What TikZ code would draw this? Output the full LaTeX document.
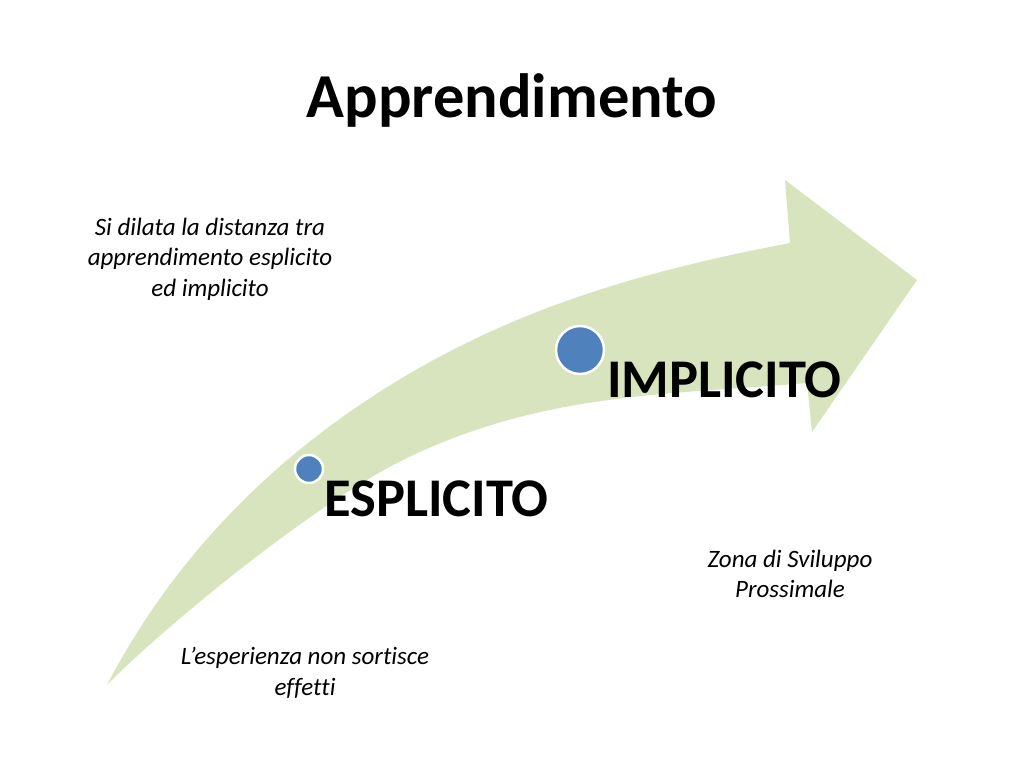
\documentclass[tikz,border=0pt]{standalone}
\usepackage{fontspec}
\setmainfont{Carlito}[Ligatures=CommonOff]
\definecolor{arrowgreen}{HTML}{D7E4BD}
\definecolor{dotblue}{HTML}{4F81BD}
\begin{document}
\begin{tikzpicture}[x=1pt,y=-1pt,
  note/.style={align=center,font=\fontsize{25}{30.5}\selectfont\itshape,inner sep=0pt},
  big/.style={font=\fontsize{54.5}{60}\selectfont\bfseries,inner sep=0pt},
  dot/.style={circle,fill=dotblue,draw=white,line width=2.5pt,inner sep=0pt}]
\useasboundingbox (0,0) rectangle (1024,768);
\fill[white] (0,0) rectangle (1024,768);
% curved arrow
\fill[arrowgreen]
  (107,685) .. controls (180,545) and (287,448) .. (397,381)
  .. controls (527,302) and (660,268) .. (790,243)
  -- (785,180) -- (917,280) -- (812,432) -- (807,383)
  .. controls (667,395) and (537,392) .. (397,463)
  .. controls (307,509) and (157,633) .. (107,685)
  -- cycle;
\node[anchor=base,font=\fontsize{62.5}{70}\selectfont\bfseries,inner sep=0pt] (title) at (512,117) {Apprendimento};
\node[dot,minimum size=48pt] (d2) at (580,350) {};
\node[dot,minimum size=28pt] (d1) at (309,469) {};
\node[big,anchor=base west] (impl) at (607,397) {IMPLICITO};
\node[big,anchor=base west] (espl) at (324,516) {ESPLICITO};
\node[note] (n1) at (210,259) {Si dilata la distanza tra\\apprendimento esplicito\\ed implicito};
\node[note] (n2) at (790,574) {Zona di Sviluppo\\Prossimale};
\node[note] (n3) at (305,673) {L’esperienza non sortisce\\effetti};
\end{tikzpicture}
\end{document}
